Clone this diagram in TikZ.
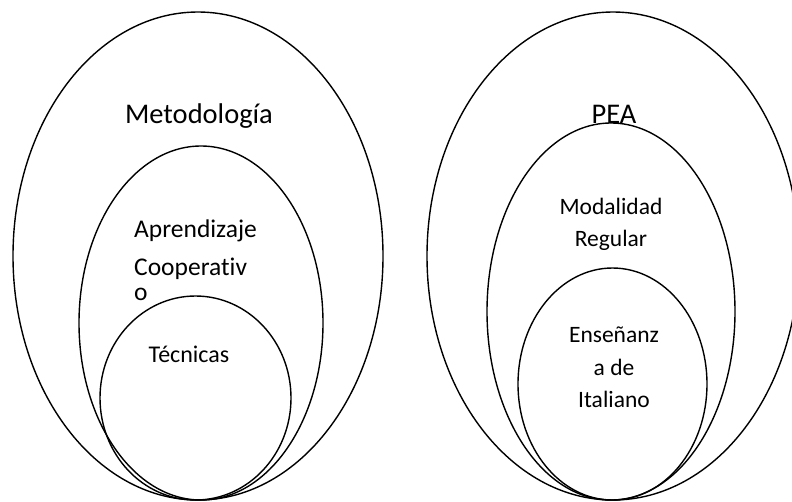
\documentclass[tikz,border=0pt]{standalone}
\usepackage{fontspec}
\setmainfont{Carlito}[Ligatures=NoCommon]
\usetikzlibrary{shapes.geometric}
\tikzset{
  ring/.style={draw=black, line width=1.4pt, ellipse, inner sep=0pt, fill=none},
  lbl/.style={inner sep=0pt, anchor=base, font=\fontsize{23.5}{28}\selectfont},
  biglbl/.style={inner sep=0pt, anchor=base, font=\fontsize{28.5}{34}\selectfont},
  leftlbl/.style={inner sep=0pt, anchor=base west, font=\fontsize{25.5}{30}\selectfont},
}
\begin{document}
\begin{tikzpicture}[x=1pt, y=-1pt]
\useasboundingbox (0,0) rectangle (792,501);
\clip (0,0) rectangle (792,501);
% left group
\node[ring, minimum width=370pt, minimum height=488pt] (metO) at (198,256) {};
\node[ring, minimum width=244pt, minimum height=354pt] (aprM) at (201,323) {};
\node[ring, minimum width=191pt, minimum height=204pt] (tecI) at (195.5,398) {};
\node[biglbl] (metT) at (199,123) {Metodología};
\node[leftlbl] (apr1) at (134,237) {Aprendizaje};
\node[leftlbl] (apr2) at (134,275) {Cooperativ};
\node[leftlbl] (apr3) at (134,300) {o};
\node[lbl, font=\fontsize{24}{28}\selectfont] (tecT) at (189,362) {Técnicas};
% right group
\node[ring, minimum width=372pt, minimum height=488pt] (peaO) at (613,256) {};
\node[ring, minimum width=248pt, minimum height=377pt] (modM) at (611,311.5) {};
\node[ring, minimum width=189pt, minimum height=232pt] (ensI) at (612.5,384) {};
\node[biglbl] (peaT) at (614,123) {PEA};
\node[lbl] (mod1) at (611,214) {Modalidad};
\node[lbl] (mod2) at (611,246) {Regular};
\node[lbl] (ens1) at (614,342) {Enseñanz};
\node[lbl] (ens2) at (614,375) {a de};
\node[lbl] (ens3) at (614,407) {Italiano};
\end{tikzpicture}
\end{document}
